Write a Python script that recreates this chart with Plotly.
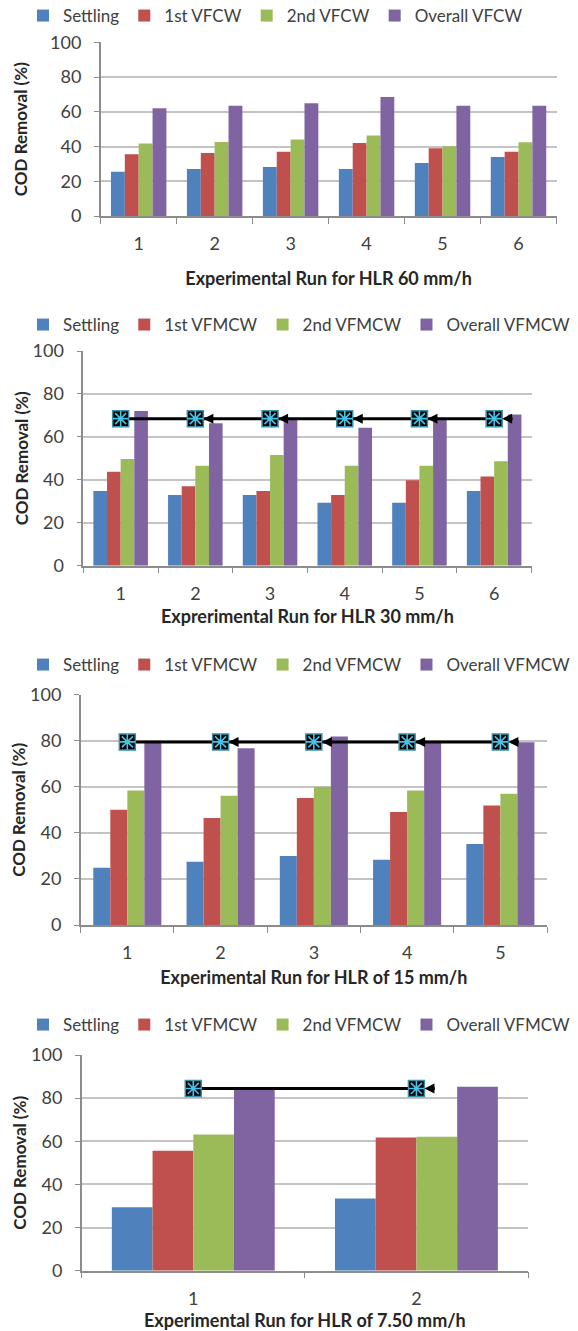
import plotly.graph_objects as go

# Colours of the four treatment stages
COLORS = ["#4F81BD", "#C0504D", "#9BBB59", "#8064A2"]

# HLR 60 mm/h
names_60 = ["Settling", "1st VFCW", "2nd VFCW", "Overall VFCW"]
runs_60 = ["1", "2", "3", "4", "5", "6"]
settling_60 = [25.5, 27.0, 28.2, 27.0, 30.5, 34.0]
first_60 = [35.5, 36.3, 37.0, 42.0, 39.0, 37.0]
second_60 = [41.8, 42.6, 44.1, 46.3, 40.1, 42.5]
overall_60 = [62.0, 63.5, 64.9, 68.5, 63.5, 63.5]

# HLR 30 mm/h
names_vfmcw = ["Settling", "1st VFMCW", "2nd VFMCW", "Overall VFMCW"]
runs_30 = ["1", "2", "3", "4", "5", "6"]
settling_30 = [34.8, 32.9, 32.9, 29.3, 29.3, 34.8]
first_30 = [43.8, 37.0, 34.8, 32.9, 39.8, 41.5]
second_30 = [49.7, 46.6, 51.6, 46.6, 46.6, 48.7]
overall_30 = [72.0, 66.3, 68.0, 64.3, 68.0, 70.4]
level_30 = [68.5, 68.5, 68.5, 68.5, 68.5, 68.5]

# HLR 15 mm/h
runs_15 = ["1", "2", "3", "4", "5"]
settling_15 = [24.9, 27.5, 30.0, 28.3, 35.2]
first_15 = [50.0, 46.5, 55.1, 49.1, 51.9]
second_15 = [58.4, 56.1, 60.0, 58.4, 57.0]
overall_15 = [80.0, 76.8, 81.9, 79.8, 79.3]
level_15 = [79.5, 79.5, 79.5, 79.5, 79.5]

# HLR 7.50 mm/h
runs_7 = ["1", "2"]
settling_7 = [29.4, 33.5]
first_7 = [55.6, 61.8]
second_7 = [63.1, 62.1]
overall_7 = [84.5, 85.3]
level_7 = [84.5, 84.5]

x_titles = [
    "Experimental Run for HLR 60 mm/h",
    "Exprerimental Run for HLR 30 mm/h",
    "Experimental Run for HLR of 15 mm/h",
    "Experimental Run for HLR of 7.50 mm/h",
]
y_title = "COD Removal (%)"

W, H = 578, 1331
FONT = "Lato"
TXT = "#404040"
AXIS = "#8c8c8c"
GRID = "#c4c4c4"

panels = [
    dict(names=names_60, runs=runs_60,
         values=[settling_60, first_60, second_60, overall_60], level=None,
         px=(100.7, 556.5), py=(42.3, 216.0), legend_y=16,
         xstand=19, ystand=18),
    dict(names=names_vfmcw, runs=runs_30,
         values=[settling_30, first_30, second_30, overall_30], level=level_30,
         px=(83.3, 531.5), py=(351.0, 565.7), legend_y=325,
         xstand=7, ystand=0),
    dict(names=names_vfmcw, runs=runs_15,
         values=[settling_15, first_15, second_15, overall_15], level=level_15,
         px=(80.7, 547.0), py=(694.7, 925.0), legend_y=665,
         xstand=9, ystand=0),
    dict(names=names_vfmcw, runs=runs_7,
         values=[settling_7, first_7, second_7, overall_7], level=level_7,
         px=(81.7, 528.0), py=(1055.0, 1270.7), legend_y=1025,
         xstand=6, ystand=0),
]

fig = go.Figure()
layout = dict(
    width=W, height=H,
    margin=dict(l=0, r=0, t=0, b=0, autoexpand=False),
    paper_bgcolor="white", plot_bgcolor="white",
    barmode="group", bargap=0.27, bargroupgap=0,
    font=dict(family=FONT, color=TXT, size=17),
    showlegend=True,
)
annotations = []

for i, p in enumerate(panels, start=1):
    sfx = "" if i == 1 else str(i)
    xa, ya, lg = "x" + sfx, "y" + sfx, "legend" + sfx
    for name, vals, color in zip(p["names"], p["values"], COLORS):
        fig.add_trace(go.Bar(
            x=p["runs"], y=vals, name=name, xaxis=xa, yaxis=ya, legend=lg,
            marker=dict(color=color, line=dict(width=0)),
        ))
    if p["level"] is not None:
        fig.add_trace(go.Scatter(
            x=p["runs"], y=p["level"], mode="lines+markers", xaxis=xa, yaxis=ya,
            showlegend=False, line=dict(color="black", width=3),
            marker=dict(symbol="square", size=16, color="black",
                        line=dict(color="#3A8FA8", width=1.5)),
        ))
        fig.add_trace(go.Scatter(
            x=p["runs"], y=p["level"], mode="markers", xaxis=xa, yaxis=ya,
            showlegend=False,
            marker=dict(symbol="asterisk-open", size=13, color="#46C3E6",
                        line=dict(color="#46C3E6", width=1.6)),
        ))
        # arrow heads pointing back at each marker
        for run, lv in zip(p["runs"][:-1], p["level"][:-1]):
            annotations.append(dict(
                x=run, y=lv, xref=xa, yref=ya, ax=20, ay=0, text="",
                showarrow=True, arrowhead=2, arrowsize=0.8, arrowwidth=2.5,
                arrowcolor="black", standoff=8,
            ))

    x0, x1 = p["px"]
    y0, y1 = p["py"]
    layout["xaxis" + sfx] = dict(
        domain=[x0 / W, x1 / W], anchor=ya, type="category",
        tickson="boundaries", ticks="outside", ticklen=6, tickcolor=AXIS,
        tickwidth=1.2, showline=True, linecolor=AXIS, linewidth=1.5,
        showgrid=False, tickfont=dict(size=18, color=TXT),
        ticklabelstandoff=11,
        title=dict(text=x_titles[i - 1], standoff=p["xstand"],
                   font=dict(size=18, color="#262626", weight="bold")),
    )
    layout["yaxis" + sfx] = dict(
        domain=[1 - y1 / H, 1 - y0 / H], anchor=xa, range=[0, 100], dtick=20,
        ticks="outside", ticklen=5, tickcolor=AXIS, tickwidth=1.2,
        showline=True, linecolor=AXIS, linewidth=1.5,
        showgrid=True, gridcolor=GRID, gridwidth=1.5, zeroline=False,
        tickfont=dict(size=18, color=TXT), ticklabelstandoff=9,
        title=dict(text=y_title, standoff=p["ystand"],
                   font=dict(size=17, color="#262626", weight="bold")),
    )
    layout[lg] = dict(
        orientation="h", x=23 / W, xanchor="left",
        y=1 - p["legend_y"] / H, yanchor="middle",
        bgcolor="rgba(0,0,0,0)", font=dict(size=17, color=TXT),
        itemwidth=30, tracegroupgap=0, traceorder="normal",
    )

layout["annotations"] = annotations
fig.update_layout(**layout)
fig.write_html("out.html")
